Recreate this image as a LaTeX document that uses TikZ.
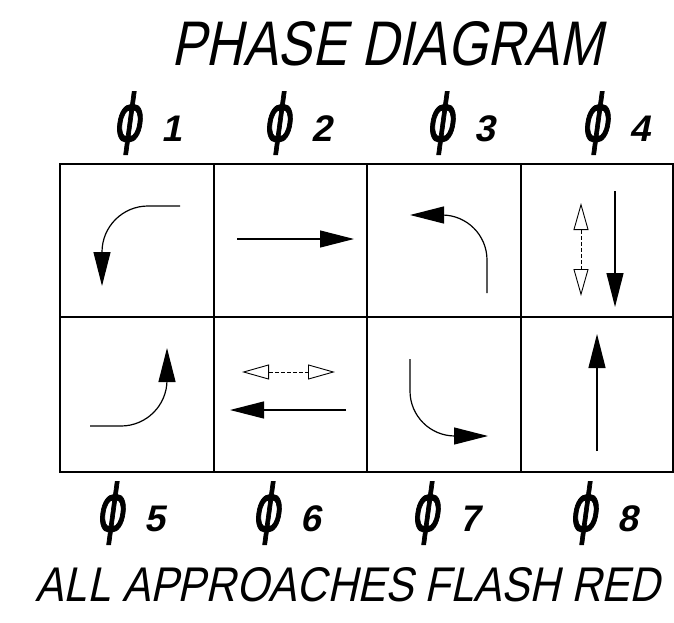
\documentclass[tikz,border=0pt]{standalone}
\usepackage{fontspec}
\usepackage{graphicx}
\usetikzlibrary{arrows.meta}
\newfontfamily\cadfont{Liberation Sans}[FakeSlant=0.25]
\newfontfamily\numfont{Liberation Sans}[FakeSlant=0.2]
\newfontfamily\phifont{DejaVu Sans}[FakeSlant=0.2, FakeBold=1.6]
\newcommand{\phaselabel}[1]{{\fontsize{65}{65}\phifont\scalebox{0.68}[1]{ϕ}}\hspace{19pt}{\fontsize{37}{37}\numfont\bfseries #1}}

\begin{document}
\begin{tikzpicture}[x=1pt, y=-1pt,
  every node/.style={inner sep=0pt, outer sep=0pt},
  cell/.style={line width=1.6pt},
  move/.style={line width=1.2pt, -{Triangle[length=34pt, width=17pt]}},
  ped/.style={line width=0.9pt, dash pattern=on 4pt off 2pt,
              {Triangle[open, length=27pt, width=15pt]}-{Triangle[open, length=27pt, width=15pt]}},
  phase/.style={anchor=base west}]
\useasboundingbox (0,0) rectangle (674,623);

% titles
\node (title) at (387,44) {\resizebox{431pt}{44pt}{\cadfont PHASE DIAGRAM}};
\node (flash) at (348,585) {\resizebox{624pt}{34pt}{\cadfont ALL APPROACHES FLASH RED}};

% phase numbers
\foreach \n/\x/\y in {1/113/141, 2/263/141, 3/426/141, 4/581/141,
                      5/96/531, 6/252/531, 7/411/531, 8/569/531}
  \node[phase] (p\n) at (\x,\y) {\phaselabel{\n}};

% grid
\draw[cell] (60,164) rectangle (673,472);
\draw[cell] (60,317) -- (673,317);
\foreach \x in {214,367,521}
  \draw[cell] (\x,164) -- (\x,472);

% upper row
\draw[move] (180,206) -- (148,206) arc[start angle=270, end angle=180, radius=46] -- (102,286);
\draw[move] (237,239) -- (354,239);
\draw[move] (487,293) -- (487,260) arc[start angle=0, end angle=-90, radius=45] -- (410,215);
\draw[ped] (581,203) -- (581,296);
\draw[move] (615,191) -- (615,307);

% lower row
\draw[move] (90,426) -- (121,426) arc[start angle=90, end angle=0, radius=46] -- (167,348);
\draw[ped] (242,372) -- (335,372);
\draw[move] (346,410) -- (230,410);
\draw[move] (410,359) -- (410,391) arc[start angle=180, end angle=90, radius=45] -- (488,436);
\draw[move] (597,451) -- (597,334);
\end{tikzpicture}
\end{document}
